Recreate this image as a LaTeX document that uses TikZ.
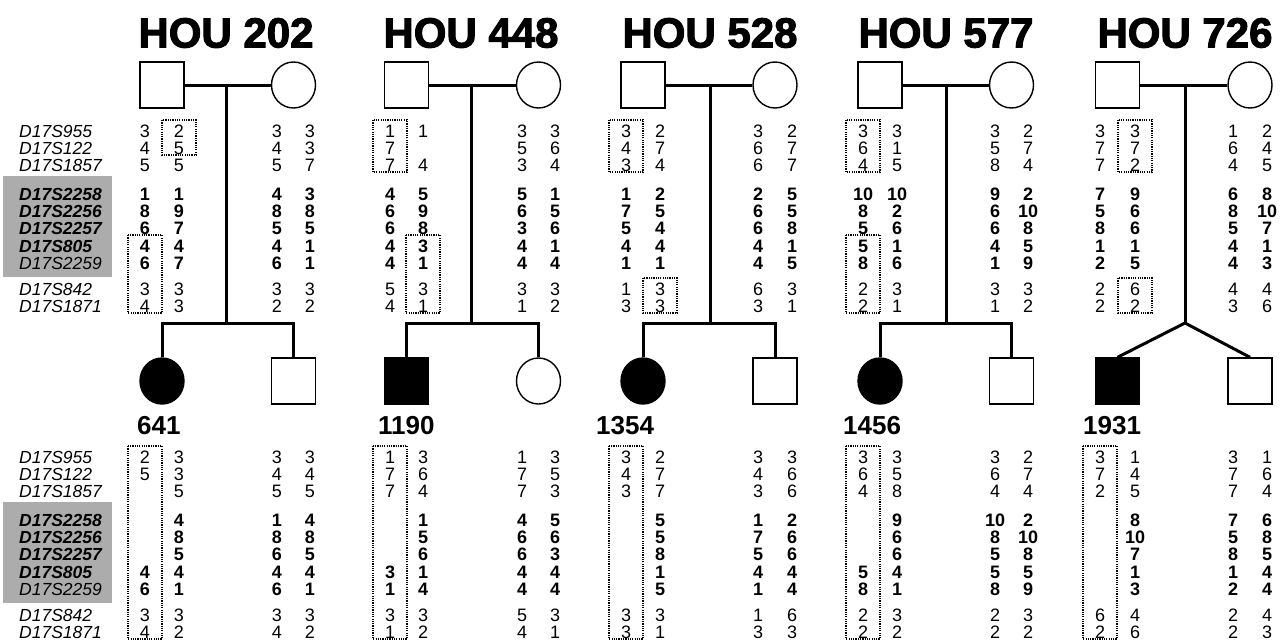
\documentclass[tikz,border=0pt]{standalone}
\usepackage{fontspec}
\setmainfont{Liberation Sans}
\newfontfamily\heavyfont{Liberation Sans Bold}[FakeBold=2.5]
\usetikzlibrary{positioning, shapes.geometric, calc}
\definecolor{bandgray}{RGB}{172,172,172}
% vertical offsets of the ten marker rows
\def\rowoff{{0,17,34,63,80,97,115,132,158,175}}
\newcommand{\genotype}[5]{%
  \foreach \ka/\kb [count=\rw] in {#5} {
    \pgfmathsetmacro{\yy}{#4+\rowoff[\rw-1]}
    \ifnum\rw>3 \ifnum\rw<9 \def\wt{\bfseries}\else\def\wt{}\fi\else\def\wt{}\fi
    \node[allele] (#1-\rw-1) at (#2,\yy) {\wt\ka};
    \node[allele] (#1-\rw-2) at (#3,\yy) {\wt\kb};
  }}
\newcommand{\hapbox}[4]{%
  \pgfmathsetmacro{\hya}{#2+\rowoff[#3-1]-11}
  \pgfmathsetmacro{\hyb}{#2+\rowoff[#4-1]+7}
  \draw[hap] (#1-17,\hya) rectangle (#1+17,\hyb);}
\newcommand{\markerlist}[2]{%
  \fill[band] (3,#2+45) rectangle (112,#2+146);
  \foreach \mk [count=\rw] in {D17S955,D17S122,D17S1857,D17S2258,D17S2256,
      D17S2257,D17S805,D17S2259,D17S842,D17S1871} {
    \pgfmathsetmacro{\yy}{#2+\rowoff[\rw-1]}
    \ifnum\rw>3 \ifnum\rw<8 \def\wt{\bfseries}\else\def\wt{}\fi\else\def\wt{}\fi
    \node[marker] (#1-\rw) at (19,\yy) {\wt\mk};
  }}

\begin{document}
\begin{tikzpicture}[x=1pt, y=-1pt,
  male/.style={draw, rectangle, minimum width=44pt, minimum height=46pt,
               line width=1.4pt, inner sep=0pt},
  female/.style={draw, ellipse, minimum width=44pt, minimum height=46pt,
                 line width=1.4pt, inner sep=0pt},
  affected/.style={fill=black},
  ped/.style={line width=3pt},
  hap/.style={line width=1.3pt, dash pattern=on 1.2pt off 1.1pt},
  band/.style={fill=bandgray},
  famlabel/.style={font=\heavyfont\fontsize{42}{42}\selectfont, inner sep=0pt},
  idlabel/.style={font=\bfseries\fontsize{26}{26}\selectfont, anchor=west, inner sep=0pt},
  marker/.style={font=\itshape\fontsize{17.5}{18}\selectfont, anchor=west, inner sep=0pt},
  allele/.style={font=\fontsize{18}{18}\selectfont, inner sep=0pt}
]
\useasboundingbox (0,0) rectangle (1281,643);
\foreach \fam/\fx/\mx/\dx/\ida/\idx/\affsym/\unsym/\tw in {
    202/162/293.5/226/641/137/female/male/0,
    448/406.5/538.5/471/1190/378/male/female/0,
    528/643/775/710/1354/596/female/male/0,
    577/880/1011.5/946/1456/843/female/male/0,
    726/1117.5/1250/1185/1931/1083/male/male/1} {
  \node[famlabel] (t\fam) at (\dx,33) {HOU \fam};
  \node[male] (f\fam) at (\fx,85) {};
  \node[female] (m\fam) at (\mx,85) {};
  \node[\affsym, affected] (c\fam) at (\fx,381) {};
  \node[\unsym] (s\fam) at (\mx,381) {};
  \node[idlabel] (id\fam) at (\idx,426) {\ida};
  \coordinate (d\fam) at (\dx,85);
  \coordinate (k\fam) at (\dx,323);
  \draw[ped] (f\fam.east) -- (m\fam.west);
  \draw[ped] (d\fam) -- (k\fam);
  \ifnum\tw=1
    \draw[ped] (c\fam.north) -- (k\fam) -- (s\fam.north);
  \else
    \draw[ped] (c\fam.north) |- (k\fam) -| (s\fam.north);
  \fi
}
\markerlist{mtop}{131}
\markerlist{mbot}{457}
% parents
\genotype{g202f}{145}{179}{131}{3/2,4/5,5/5,1/1,8/9,6/7,4/4,6/7,3/3,4/3}
\genotype{g202m}{277}{310}{131}{3/3,4/3,5/7,4/3,8/8,5/5,4/1,6/1,3/3,2/2}
\genotype{g448f}{390}{423}{131}{1/1,7/{},7/4,4/5,6/9,6/8,4/3,4/1,5/3,4/1}
\genotype{g448m}{522}{555}{131}{3/3,5/6,3/4,5/1,6/5,3/6,4/1,4/4,3/3,1/2}
\genotype{g528f}{626}{660}{131}{3/2,4/7,3/4,1/2,7/5,5/4,4/4,1/1,1/3,3/3}
\genotype{g528m}{758}{792}{131}{3/2,6/7,6/7,2/5,6/5,6/8,4/1,4/5,6/3,3/1}
\genotype{g577f}{863}{897}{131}{3/3,6/1,4/5,10/10,8/2,5/6,5/1,8/6,2/3,2/1}
\genotype{g577m}{995}{1028}{131}{3/2,5/7,8/4,9/2,6/10,6/8,4/5,1/9,3/3,1/2}
\genotype{g726f}{1100}{1135}{131}{3/3,7/7,7/2,7/9,5/6,8/6,1/1,2/5,2/6,2/2}
\genotype{g726m}{1233}{1267}{131}{1/2,6/4,4/5,6/8,8/10,5/7,4/1,4/3,4/4,3/6}
% children
\genotype{g641}{145}{179}{457}{2/3,5/3,{}/5,{}/4,{}/8,{}/5,4/4,6/1,3/3,4/2}
\genotype{g202s}{277}{310}{457}{3/3,4/4,5/5,1/4,8/8,6/5,4/4,6/1,3/3,4/2}
\genotype{g1190}{390}{423}{457}{1/3,7/6,7/4,{}/1,{}/5,{}/6,3/1,1/4,3/3,1/2}
\genotype{g448s}{522}{555}{457}{1/3,7/5,7/3,4/5,6/6,6/3,4/4,4/4,5/3,4/1}
\genotype{g1354}{626}{660}{457}{3/2,4/7,3/7,{}/5,{}/5,{}/8,{}/1,{}/5,3/3,3/1}
\genotype{g528s}{758}{792}{457}{3/3,4/6,3/6,1/2,7/6,5/6,4/4,1/4,1/6,3/3}
\genotype{g1456}{863}{897}{457}{3/3,6/5,4/8,{}/9,{}/6,{}/6,5/4,8/1,2/3,2/2}
\genotype{g577s}{995}{1028}{457}{3/2,6/7,4/4,10/2,8/10,5/8,5/5,8/9,2/3,2/2}
\genotype{g1931}{1100}{1135}{457}{3/1,7/4,2/5,{}/8,{}/10,{}/7,{}/1,{}/3,6/4,2/6}
\genotype{g726s}{1233}{1267}{457}{3/1,7/6,7/4,7/6,5/8,8/5,1/4,2/4,2/4,2/3}
% shared haplotypes
\hapbox{179}{131}{1}{2}
\hapbox{145}{131}{7}{10}
\hapbox{390}{131}{1}{3}
\hapbox{423}{131}{7}{10}
\hapbox{626}{131}{1}{3}
\hapbox{660}{131}{9}{10}
\hapbox{863}{131}{1}{3}
\hapbox{863}{131}{7}{10}
\hapbox{1135}{131}{1}{3}
\hapbox{1135}{131}{9}{10}
\foreach \hx in {145,390,626,863,1100} {\hapbox{\hx}{457}{1}{10}}
\end{tikzpicture}
\end{document}
